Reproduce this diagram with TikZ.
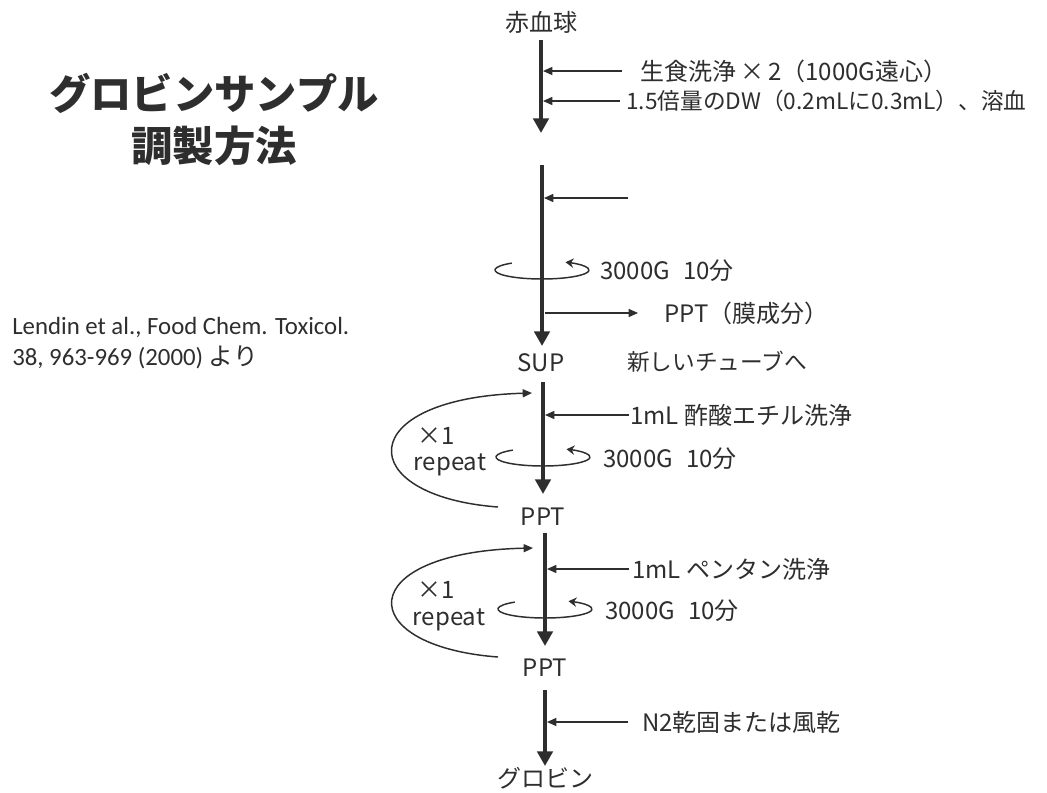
\documentclass[tikz,border=0pt]{standalone}
\usepackage{fontspec}
\setmainfont{Carlito}
\newfontfamily\jp{Noto Sans CJK JP}
\usetikzlibrary{arrows.meta}
\definecolor{ink}{HTML}{2E2E2E}
\begin{document}
\begin{tikzpicture}[x=0.75pt,y=-0.75pt,
  every node/.style={text=ink,inner sep=0pt},
  lbl/.style={font=\jp\fontsize{18}{20}\selectfont,anchor=west},
  stage/.style={font=\jp\fontsize{18}{20}\selectfont},
  mainarrow/.style={draw=ink,line width=3.6pt,-{Triangle[width=11.5pt,length=11pt]}},
  thin/.style={draw=ink,line width=1.1pt,-{Triangle[width=6pt,length=7pt]}},
  spin/.style={draw=ink,line width=1.1pt,-{Stealth[width=7pt,length=6pt]}},
  loopback/.style={draw=ink,line width=1.1pt,-{Triangle[width=6pt,length=7pt]}}]
\fill[white] (0,0) rectangle (1047,793);
\useasboundingbox (0,0) rectangle (1047,793);

% title and citation
\node[font=\jp\bfseries\fontsize{31}{34}\selectfont] (title1) at (214,93) {グロビンサンプル};
\node[font=\jp\bfseries\fontsize{31}{34}\selectfont] (title2) at (214,146) {調製方法};
\node[font=\fontsize{18.6}{21}\selectfont,anchor=west] (cite1) at (12,327) {Lendin et al., Food Chem. Toxicol.};
\node[font=\fontsize{18.6}{21}\selectfont,anchor=west] (cite2) at (12,357) {38, 963-969 (2000) {\jp より}};

% stage nodes
\node[stage] (rbc) at (541,22) {赤血球};
\node[stage] (sup) at (541,363) {SUP};
\node[stage] (ppt1) at (543,517) {PPT};
\node[stage] (ppt2) at (545,668) {PPT};
\node[stage] (glob) at (545,778) {グロビン};

% segment coordinates
\coordinate (s1a) at (541,40);  \coordinate (s1b) at (541,133);
\coordinate (s2a) at (542,165); \coordinate (s2b) at (542,346);
\coordinate (s3a) at (543,382); \coordinate (s3b) at (543,494);
\coordinate (s4a) at (545,533); \coordinate (s4b) at (545,646);
\coordinate (s5a) at (545,690); \coordinate (s5b) at (545,766);

\draw[mainarrow] (s1a) -- (s1b);
\draw[mainarrow] (s2a) -- (s2b);
\draw[mainarrow] (s3a) -- (s3b);
\draw[mainarrow] (s4a) -- (s4b);
\draw[mainarrow] (s5a) -- (s5b);

% side inputs
\coordinate (i1s) at (622,71);  \coordinate (i1e) at (543,71);
\coordinate (i2s) at (620,101); \coordinate (i2e) at (543,101);
\coordinate (i3s) at (628,198); \coordinate (i3e) at (544,198);
\coordinate (i4s) at (629,415); \coordinate (i4e) at (545,415);
\coordinate (i5s) at (629,569); \coordinate (i5e) at (547,569);
\coordinate (i6s) at (628,722); \coordinate (i6e) at (547,722);
\draw[thin] (i1s) -- (i1e);
\draw[thin] (i2s) -- (i2e);
\draw[thin] (i3s) -- (i3e);
\draw[thin] (i4s) -- (i4e);
\draw[thin] (i5s) -- (i5e);
\draw[thin] (i6s) -- (i6e);

\node[lbl] (t1) at (640,71) {生食洗浄\,×\,2（1000G遠心）};
\node[lbl,font=\jp\fontsize{17}{19}\selectfont] (t2) at (626,101) {1.5倍量のDW（0.2mLに0.3mL）、溶血};
\node[lbl] (t4) at (630,415) {1mL 酢酸エチル洗浄};
\node[lbl] (t5) at (632,569) {1mL ペンタン洗浄};
\node[lbl] (t6) at (642,722) {N2乾固または風乾};

% output
\coordinate (o1s) at (545,313); \coordinate (o1e) at (638,313);
\draw[thin] (o1s) -- (o1e);
\node[lbl] (to1) at (664,313) {PPT（膜成分）};
\node[lbl,font=\jp\fontsize{17}{19}\selectfont] (tnew) at (627,362) {新しいチューブへ};

% centrifugation
\coordinate (e1) at (542,270);
\coordinate (e2) at (543,457);
\coordinate (e3) at (545,609);
\draw[spin] (e1) ++(-130:47 and 9) arc[start angle=-130,end angle=-420,x radius=47,y radius=9];
\draw[spin] (e2) ++(-130:47 and 9) arc[start angle=-130,end angle=-420,x radius=47,y radius=9];
\draw[spin] (e3) ++(-130:47 and 9) arc[start angle=-130,end angle=-420,x radius=47,y radius=9];
\node[lbl] (c1) at (600,271) {3000G\hspace{0.55em}10分};
\node[lbl] (c2) at (603,459) {3000G\hspace{0.55em}10分};
\node[lbl] (c3) at (605,611) {3000G\hspace{0.55em}10分};

% repeat loops
\coordinate (l1s) at (498,507); \coordinate (l1e) at (532,393);
\coordinate (l2s) at (498,657); \coordinate (l2e) at (533,548);
\draw[loopback] (l1s) .. controls (352,496) and (352,398) .. (l1e);
\draw[loopback] (l2s) .. controls (352,646) and (352,552) .. (l2e);
\node[stage] (x1a) at (436,436) {×1};
\node[stage] (r1) at (450,465) {repeat};
\node[stage] (x1b) at (436,590) {×1};
\node[stage] (r2) at (449,620) {repeat};
\end{tikzpicture}
\end{document}
